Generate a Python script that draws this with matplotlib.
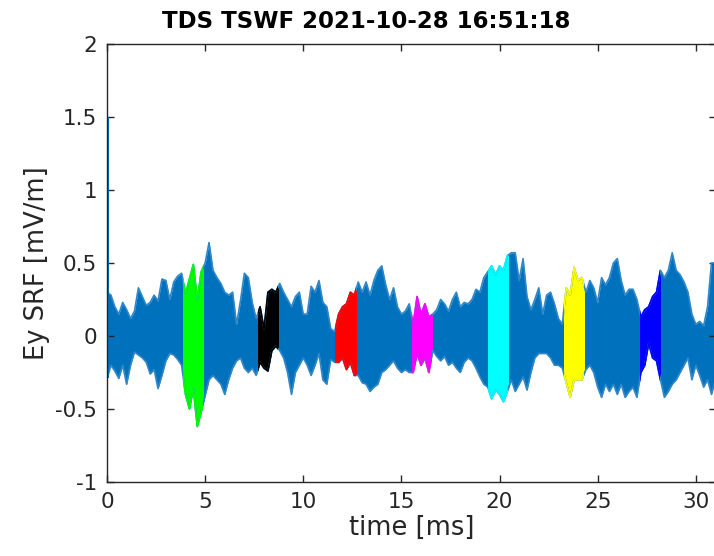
import numpy as np
import matplotlib
matplotlib.use("Agg")
import matplotlib.pyplot as plt
from matplotlib.patches import Rectangle

# ---- data ----
title = "TDS TSWF 2021-10-28 16:51:18"
xlabel = "time [ms]"
ylabel = "Ey SRF [mV/m]"

# sample times (ms) of the envelope readings
t = np.round(np.arange(0.0, 31.01, 0.2), 2)

upper = [0.30, 0.28, 0.20, 0.15, 0.23, 0.18, 0.12, 0.17, 0.33, 0.27,
         0.21, 0.23, 0.28, 0.24, 0.39, 0.38, 0.25, 0.37, 0.41, 0.43,
         0.29, 0.39, 0.49, 0.25, 0.44,
         0.50, 0.64, 0.45, 0.40, 0.36, 0.30, 0.28, 0.30, 0.08, 0.24,
         0.43, 0.40, 0.23, 0.12, 0.20, 0.05, 0.30, 0.32, 0.30, 0.36,
         0.30, 0.25, 0.20, 0.27, 0.30,
         0.15, 0.15, 0.34, 0.30, 0.38, 0.23, 0.20, 0.05, 0.03, 0.15,
         0.20, 0.22, 0.30, 0.28, 0.37, 0.30, 0.37, 0.28, 0.38, 0.45,
         0.48, 0.35, 0.25, 0.33, 0.20,
         0.15, 0.17, 0.22, 0.08, 0.27, 0.15, 0.22, 0.13, 0.15, 0.18,
         0.25, 0.22, 0.17, 0.25, 0.30, 0.20, 0.23, 0.22, 0.25, 0.32,
         0.30, 0.40, 0.44, 0.48, 0.42, 0.48, 0.45,
         0.55, 0.57, 0.57, 0.38, 0.53, 0.27, 0.18, 0.25, 0.33, 0.15,
         0.28, 0.30, 0.22, 0.12, 0.08, 0.33, 0.28, 0.47, 0.38, 0.40,
         0.30, 0.38, 0.33, 0.23, 0.40,
         0.35, 0.40, 0.50, 0.53, 0.38, 0.28, 0.32, 0.32, 0.25, 0.13,
         0.18, 0.20, 0.27, 0.30, 0.45, 0.40, 0.45, 0.57, 0.45, 0.42,
         0.37, 0.30, 0.15, 0.08, 0.10, 0.07, 0.20, 0.50, 0.50]

lower = [-0.29, -0.20, -0.24, -0.29, -0.20, -0.33, -0.20, -0.11, -0.13, -0.15,
         -0.18, -0.26, -0.23, -0.36, -0.27, -0.17, -0.12, -0.13, -0.16, -0.20,
         -0.40, -0.50, -0.36, -0.62, -0.52,
         -0.41, -0.30, -0.27, -0.30, -0.33, -0.40, -0.30, -0.22, -0.17, -0.15,
         -0.22, -0.25, -0.22, -0.27, -0.18, -0.22, -0.24, -0.10, -0.07, -0.10,
         -0.15, -0.25, -0.40, -0.25, -0.20,
         -0.15, -0.20, -0.27, -0.20, -0.12, -0.30, -0.33, -0.16, -0.18, -0.18,
         -0.15, -0.23, -0.18, -0.27, -0.27, -0.32, -0.33, -0.38, -0.35, -0.33,
         -0.25, -0.23, -0.20, -0.17, -0.22,
         -0.25, -0.23, -0.25, -0.25, -0.12, -0.20, -0.15, -0.25, -0.10, -0.14,
         -0.17, -0.14, -0.20, -0.18, -0.22, -0.25, -0.18, -0.15, -0.17, -0.22,
         -0.28, -0.33, -0.35, -0.43, -0.37, -0.40, -0.45,
         -0.38, -0.30, -0.38, -0.33, -0.28, -0.37, -0.25, -0.15, -0.12, -0.12,
         -0.12, -0.15, -0.20, -0.20, -0.22, -0.32, -0.42, -0.30, -0.30, -0.30,
         -0.23, -0.20, -0.25, -0.35, -0.42,
         -0.33, -0.38, -0.33, -0.40, -0.33, -0.42, -0.38, -0.35, -0.42, -0.25,
         -0.20, -0.05, -0.15, -0.17, -0.30, -0.42, -0.38, -0.33, -0.30, -0.25,
         -0.20, -0.15, -0.30, -0.20, -0.27, -0.35, -0.30, -0.40, -0.30]

# initial spike at t = 0
spike_t = 0.0
spike_top = 1.5
spike_bottom = -0.29

# highlighted snapshots: start time (ms), end time (ms), colour
seg_start = [3.85, 7.71, 11.61, 15.52, 19.39, 23.30, 27.15]
seg_end = [4.91, 8.69, 12.67, 16.54, 20.41, 24.31, 28.17]
seg_color = ["#00ff00", "#000000", "#ff0000", "#ff00ff", "#00ffff", "#ffff00", "#0000ff"]

xticks = [0, 5, 10, 15, 20, 25, 30]
yticks = [-1, -0.5, 0, 0.5, 1, 1.5, 2]
ytick_labels = ["-1", "-0.5", "0", "0.5", "1", "1.5", "2"]

# ---- drawing ----
W, H = 714, 556
fig = plt.figure(figsize=(W / 100, H / 100), dpi=100)
ax = fig.add_axes([107 / W, (556 - 482) / H, (716 - 107) / W, (482 - 44) / H])

main_c = "#0072bd"
edge_c = "#2f86c8"
up = np.array(upper)
lo = np.array(lower)


def draw_band(color, ecolor, clip=None):
    arts = [ax.fill_between(t, lo, up, color=color, lw=0)]
    for arr in (up, lo):
        ln, = ax.plot(t, arr, color=ecolor, lw=1.2)
        arts.append(ln)
    if clip is not None:
        for a in arts:
            a.set_clip_path(clip)


draw_band(main_c, edge_c)
ax.vlines([spike_t + 0.03], [spike_bottom], [spike_top], color=main_c, lw=1.5)

for s, e, c in zip(seg_start, seg_end, seg_color):
    clip = Rectangle((s, -1), e - s, 3, transform=ax.transData)
    draw_band(c, c, clip)

ax.set_xlim(0, 31.03)
ax.set_ylim(-1, 2)
ax.set_xticks(xticks)
ax.set_yticks(yticks)
ax.set_yticklabels(ytick_labels)

dark = "#262626"
for sp in ax.spines.values():
    sp.set_color(dark)
    sp.set_linewidth(1.0)
ax.tick_params(direction="in", length=5, width=1.0, colors=dark,
               labelsize=15.5, top=True, right=True, pad=7)

ax.set_xlabel(xlabel, fontsize=18.5, color=dark, labelpad=2)
ax.set_ylabel(ylabel, fontsize=18.5, color=dark, labelpad=4)
fig.text(366 / W, 1 - 22 / H, title, fontsize=16.5, fontweight="bold",
         color="black", ha="center", va="center")

fig.savefig("out.png", dpi=100)
